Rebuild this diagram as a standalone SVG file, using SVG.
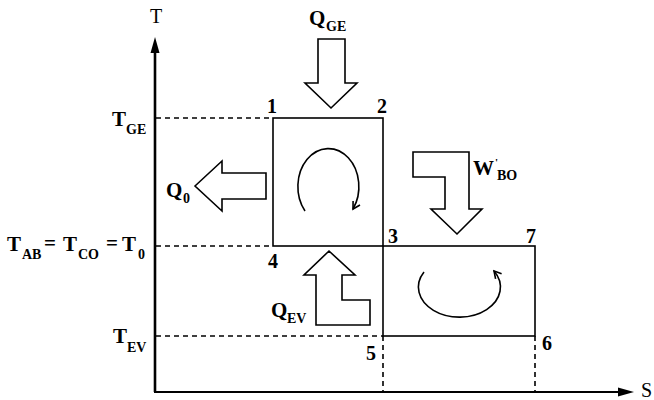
<svg xmlns="http://www.w3.org/2000/svg" width="654" height="400" viewBox="0 0 654 400">
<defs>
<style>
.ax{stroke:#000;fill:none}
.box{stroke:#000;stroke-width:1.6;fill:none}
.dash{stroke:#000;stroke-width:1.6;stroke-dasharray:5 4;fill:none}
.flow{stroke:#000;stroke-width:1.6;fill:#fff;stroke-linejoin:miter}
.cyc{stroke:#000;stroke-width:1.6;fill:none}
.b{font-family:"Liberation Serif","Times New Roman",serif;font-weight:bold;fill:#000}
.r{font-family:"Liberation Serif","Times New Roman",serif;fill:#000}
.big{font-size:21px}
.sub{font-size:14px}
.num{font-size:20px}
</style>
<marker id="ah" markerWidth="10" markerHeight="10" refX="8" refY="5" orient="auto" markerUnits="userSpaceOnUse">
<path d="M1,1 L8,5 L1,9" fill="none" stroke="#000" stroke-width="1.6"/>
</marker>
</defs>

<g id="axes">
<line class="ax" x1="155" y1="392" x2="155" y2="50" stroke-width="2.6"/>
<polygon points="155,37 159.5,53 150.5,53" fill="#000"/>
<line class="ax" x1="154" y1="392" x2="620" y2="392" stroke-width="2"/>
<polygon points="634,392 618,387.5 618,396.5" fill="#000"/>
<text class="r" x="150" y="23" font-size="20">T</text>
<text class="r" x="641" y="397" font-size="20">S</text>
</g>

<g id="guides">
<line class="dash" x1="156" y1="118" x2="273" y2="118"/>
<line class="dash" x1="156" y1="246" x2="273" y2="246"/>
<line class="dash" x1="156" y1="336" x2="383" y2="336"/>
<line class="dash" x1="383" y1="336" x2="383" y2="391"/>
<line class="dash" x1="535" y1="336" x2="535" y2="391"/>
</g>

<g id="axis-labels">
<text class="b big" x="112" y="126">T</text><text class="b sub" x="126" y="134">GE</text>
<text class="b big" x="7" y="251">T</text><text class="b sub" x="22" y="259">AB</text>
<text class="b big" x="44" y="250">=</text>
<text class="b big" x="63" y="251">T</text><text class="b sub" x="78" y="259">CO</text>
<text class="b big" x="106" y="250">=</text>
<text class="b big" x="122" y="251">T</text><text class="b sub" x="138" y="259">0</text>
<text class="b big" x="113" y="343">T</text><text class="b sub" x="127" y="352">EV</text>
</g>

<g id="cycle-upper">
<rect class="box" x="273" y="118" width="110" height="128"/>
<path class="cyc" d="M305,211 A30.5,38 0 1 1 353,209" marker-end="url(#ah)"/>
<text class="b num" x="267" y="113">1</text>
<text class="b num" x="377" y="113">2</text>
<text class="b num" x="388" y="243">3</text>
<text class="b num" x="268" y="268">4</text>
</g>

<g id="cycle-lower">
<rect class="box" x="383" y="246" width="152" height="90"/>
<path class="cyc" d="M424,272 A41,30 0 1 0 494,271" marker-end="url(#ah)"/>
<text class="b num" x="526" y="243">7</text>
<text class="b num" x="366" y="360">5</text>
<text class="b num" x="542" y="350">6</text>
</g>

<g id="flows">
<g id="q-ge">
<polygon class="flow" points="318,39 345,39 345,83 357,83 331,108 305,83 318,83"/>
<text class="b big" x="309" y="25">Q</text><text class="b sub" x="326" y="31">GE</text>
</g>
<g id="q-0">
<polygon class="flow" points="195,186 222,161 222,173 266,173 266,199 222,199 222,211"/>
<text class="b big" x="166" y="197">Q</text><text class="b sub" x="183" y="203">0</text>
</g>
<g id="w-bo">
<polygon class="flow" points="413,152 469,152 469,209 482,209 457,234 431,209 445,209 445,177 413,177"/>
<text class="b big" x="473" y="175">W</text><text class="b" x="495" y="166" font-size="11">'</text><text class="b sub" x="497" y="180">BO</text>
</g>
<g id="q-ev">
<polygon class="flow" points="329,251 355,275 342,275 342,300 370,300 370,325 316,325 316,275 304,275"/>
<text class="b big" x="271" y="317">Q</text><text class="b sub" x="287" y="323">EV</text>
</g>
</g>
</svg>
